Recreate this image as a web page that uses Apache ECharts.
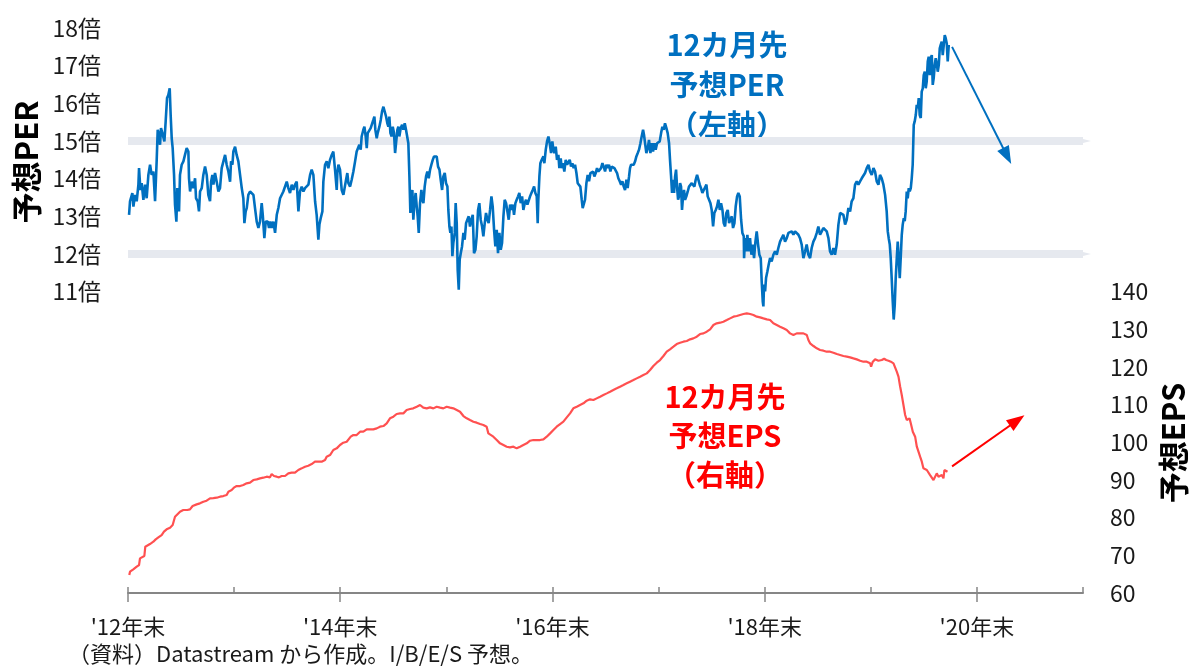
<!DOCTYPE html>
<html><head><meta charset="utf-8">
<script src="https://cdn.jsdelivr.net/npm/echarts@6/dist/echarts.min.js"></script>
<style>html,body{margin:0;padding:0;background:#fff}#chart{width:1189px;height:666px}</style>
</head><body><div id="chart"></div>
<script>
// x = decimal year (2013.0 = end of 2012)
const perData = [
[2013.010,13.04],[2013.019,13.40],[2013.041,13.62],[2013.051,13.26],[2013.066,13.57],[2013.082,13.40],[2013.098,13.84],[2013.104,14.28],[2013.117,13.70],[2013.129,13.88],[2013.145,13.44],[2013.161,13.84],[2013.176,13.48],[2013.192,14.10],[2013.208,14.37],[2013.223,14.10],[2013.239,14.19],[2013.255,13.40],[2013.270,14.46],[2013.280,15.30],[2013.292,15.16],[2013.302,14.90],[2013.311,15.34],[2013.324,15.21],[2013.343,14.99],[2013.355,15.52],[2013.368,16.14],[2013.380,16.22],[2013.393,16.40],[2013.402,15.69],[2013.412,15.07],[2013.421,14.81],[2013.434,14.10],[2013.443,13.31],[2013.456,12.86],[2013.465,13.75],[2013.475,13.57],[2013.481,13.13],[2013.490,14.10],[2013.506,14.37],[2013.522,14.46],[2013.537,14.63],[2013.553,14.81],[2013.569,14.72],[2013.575,14.01],[2013.585,13.66],[2013.600,13.92],[2013.616,13.75],[2013.632,14.01],[2013.641,13.48],[2013.657,13.40],[2013.669,13.13],[2013.679,13.66],[2013.695,13.75],[2013.710,14.10],[2013.726,14.32],[2013.742,14.10],[2013.757,13.57],[2013.773,13.40],[2013.783,13.92],[2013.795,14.10],[2013.805,13.84],[2013.820,14.15],[2013.836,13.92],[2013.852,13.66],[2013.867,13.75],[2013.883,14.28],[2013.899,14.46],[2013.915,14.63],[2013.930,14.37],[2013.946,14.19],[2013.962,13.92],[2013.971,14.46],[2013.984,14.37],[2013.993,14.72],[2014.009,14.85],[2014.024,14.63],[2014.040,14.46],[2014.056,14.50],[2014.072,13.75],[2014.087,13.48],[2014.097,12.82],[2014.109,13.13],[2014.119,13.22],[2014.134,13.57],[2014.150,13.66],[2014.166,13.70],[2014.182,13.57],[2014.197,13.22],[2014.213,12.86],[2014.229,12.69],[2014.244,12.86],[2014.260,13.35],[2014.270,13.04],[2014.285,12.42],[2014.298,12.86],[2014.317,12.86],[2014.329,12.69],[2014.342,12.86],[2014.354,12.69],[2014.370,12.86],[2014.386,12.56],[2014.402,13.04],[2014.417,13.22],[2014.433,13.48],[2014.449,13.53],[2014.464,13.66],[2014.480,13.70],[2014.496,13.92],[2014.511,13.75],[2014.527,13.62],[2014.543,13.84],[2014.559,13.70],[2014.574,13.84],[2014.590,13.92],[2014.606,13.13],[2014.621,13.66],[2014.637,13.79],[2014.653,13.66],[2014.668,13.75],[2014.684,13.79],[2014.700,13.84],[2014.716,14.10],[2014.731,14.24],[2014.747,14.10],[2014.763,13.40],[2014.778,13.04],[2014.794,12.38],[2014.804,12.78],[2014.816,12.95],[2014.832,13.13],[2014.841,13.92],[2014.857,14.37],[2014.873,14.46],[2014.888,14.28],[2014.904,14.50],[2014.920,14.63],[2014.935,14.72],
[2014.951,14.24],[2014.967,13.70],[2014.973,14.15],[2014.983,14.37],[2014.998,14.24],[2015.014,13.70],[2015.030,13.57],[2015.045,13.62],[2015.055,13.97],[2015.067,14.15],[2015.077,13.88],[2015.093,13.79],[2015.108,13.97],[2015.124,14.19],[2015.140,14.46],[2015.155,14.72],[2015.171,14.72],[2015.180,14.90],[2015.193,14.77],[2015.202,15.12],[2015.218,15.30],[2015.228,15.38],[2015.240,15.12],[2015.250,14.81],[2015.259,15.21],[2015.275,15.25],[2015.287,15.34],[2015.303,15.38],[2015.312,15.56],[2015.322,15.65],[2015.331,15.30],[2015.344,15.07],[2015.353,15.21],[2015.369,15.38],[2015.382,15.56],[2015.394,15.78],[2015.407,15.91],[2015.422,15.96],[2015.432,15.65],[2015.444,15.47],[2015.454,15.38],[2015.463,15.65],[2015.473,15.21],[2015.485,15.12],[2015.495,15.38],[2015.507,15.21],[2015.517,14.68],[2015.526,14.94],[2015.539,15.30],[2015.548,15.38],[2015.557,15.12],[2015.570,15.34],[2015.583,15.43],[2015.595,15.30],[2015.608,15.47],[2015.620,15.30],[2015.633,15.25],[2015.642,14.94],[2015.652,14.06],[2015.661,13.09],[2015.671,13.44],[2015.680,13.70],[2015.689,12.91],[2015.699,13.35],[2015.711,13.62],[2015.721,13.26],[2015.730,13.00],[2015.740,12.56],[2015.752,13.35],[2015.765,13.70],[2015.774,13.44],[2015.784,13.35],[2015.796,13.79],[2015.809,14.06],[2015.821,14.19],[2015.834,14.01],[2015.847,14.24],[2015.859,14.37],[2015.872,14.50],[2015.884,14.59],[2015.897,14.63],[2015.909,14.59],[2015.922,14.32],[2015.935,14.24],[2015.947,13.97],[2015.960,13.70],[2015.972,14.06],[2015.985,14.15],[2015.997,13.88],[2016.010,13.79],[2016.019,13.17],[2016.029,12.73],[2016.038,12.56],[2016.048,12.73],[2016.057,11.94],[2016.066,12.29],[2016.079,12.56],[2016.088,13.35],[2016.098,12.82],[2016.107,11.58],[2016.117,11.05],[2016.126,11.85],[2016.136,12.02],[2016.148,12.20],[2016.161,12.56],[2016.173,12.38],[2016.186,12.82],[2016.198,12.91],[2016.211,13.00],[2016.223,12.73],[2016.236,12.91],[2016.249,13.04],[2016.261,12.02],[2016.274,12.11],[2016.286,12.47],[2016.299,13.17],[2016.311,13.35],[2016.324,12.91],[2016.337,12.73],[2016.349,12.47],[2016.362,12.82],[2016.374,13.09],[2016.387,12.91],[2016.399,12.82],[2016.412,13.17],[2016.425,13.53],[2016.437,13.26],[2016.450,12.64],[2016.462,12.20],[2016.475,12.64],[2016.487,12.02],[2016.500,12.56],[2016.513,12.11],[2016.525,12.29],[2016.538,13.00],[2016.550,13.44],[2016.563,13.35],[2016.575,13.35],[2016.588,12.91],[2016.601,13.31],[2016.613,13.17],[2016.626,13.31],[2016.638,13.04],[2016.651,13.35],[2016.663,13.44],[2016.676,13.53],[2016.688,13.62],[2016.701,13.35],[2016.714,13.53],[2016.726,13.17],[2016.739,13.35],[2016.751,13.44],[2016.764,13.31],[2016.776,13.35],[2016.789,13.53],[2016.802,13.62],[2016.814,13.70],[2016.827,13.79],[2016.839,13.62],[2016.852,13.53],
[2016.861,12.82],[2016.867,13.44],[2016.877,14.06],[2016.886,14.41],[2016.899,14.50],[2016.915,14.59],[2016.924,14.41],[2016.937,14.77],[2016.949,14.99],[2016.962,15.12],[2016.974,14.94],[2016.987,14.68],[2016.999,14.99],[2017.009,14.77],[2017.018,14.68],[2017.031,14.85],[2017.043,14.50],[2017.056,14.63],[2017.065,14.28],[2017.078,14.54],[2017.087,14.28],[2017.100,14.41],[2017.112,14.19],[2017.125,14.50],[2017.138,14.37],[2017.150,14.41],[2017.163,14.50],[2017.175,14.32],[2017.188,14.41],[2017.200,14.28],[2017.213,14.37],[2017.226,14.15],[2017.238,13.88],[2017.251,13.93],[2017.263,13.79],[2017.276,13.44],[2017.285,13.22],[2017.295,13.17],[2017.307,13.44],[2017.320,13.88],[2017.332,14.10],[2017.345,13.93],[2017.358,14.15],[2017.370,14.10],[2017.383,14.19],[2017.395,14.06],[2017.408,14.15],[2017.420,14.28],[2017.433,14.19],[2017.445,14.24],[2017.458,14.28],[2017.471,14.41],[2017.483,14.32],[2017.496,14.19],[2017.508,14.37],[2017.521,14.28],[2017.533,14.37],[2017.546,14.19],[2017.559,14.32],[2017.571,14.37],[2017.584,14.28],[2017.596,14.24],[2017.609,14.15],[2017.621,14.01],[2017.634,13.93],[2017.647,13.84],[2017.659,13.93],[2017.672,13.79],[2017.684,13.70],[2017.697,13.97],[2017.709,13.75],[2017.722,14.06],[2017.731,14.28],[2017.741,14.37],[2017.753,14.32],[2017.766,14.37],[2017.779,14.46],[2017.791,14.59],[2017.804,14.68],[2017.816,14.77],[2017.829,14.94],[2017.841,15.12],[2017.854,15.30],[2017.863,15.16],[2017.873,14.94],[2017.885,14.68],[2017.898,14.81],[2017.910,15.03],[2017.923,14.68],[2017.936,14.94],[2017.948,14.72],[2017.961,14.94],[2017.973,14.77],[2017.986,14.94],[2017.998,14.90],[2018.011,14.99],[2018.024,15.21],[2018.036,15.38],[2018.049,15.30],[2018.061,15.47],[2018.074,15.34],[2018.086,15.21],[2018.099,14.94],[2018.108,14.50],[2018.118,14.06],[2018.127,13.62],[2018.137,13.97],[2018.146,13.62],[2018.156,14.06],[2018.165,14.24],[2018.174,13.79],[2018.184,13.44],[2018.193,13.53],[2018.203,13.88],[2018.212,13.79],[2018.221,13.17],[2018.231,13.53],[2018.240,13.70],[2018.250,13.44],[2018.262,13.53],[2018.275,13.66],[2018.287,13.79],[2018.300,13.75],[2018.313,13.88],[2018.325,13.93],[2018.338,13.79],[2018.350,13.97],[2018.363,14.10],[2018.375,14.06],[2018.388,13.84],[2018.400,13.75],[2018.413,13.62],[2018.426,13.70],[2018.438,13.75],[2018.451,13.84],[2018.463,13.53],[2018.476,13.44],[2018.489,13.35],[2018.501,13.17],[2018.514,12.73],[2018.526,13.09],[2018.539,13.17],[2018.551,13.26],[2018.564,13.44],[2018.577,13.17],[2018.589,13.35],[2018.602,13.17],[2018.614,12.82],[2018.627,12.73],[2018.639,13.09],[2018.652,13.17],[2018.665,12.82],[2018.677,12.91],[2018.690,13.00],[2018.702,12.69],[2018.715,12.82],[2018.727,13.26],[2018.740,13.53],[2018.752,13.62],[2018.765,13.53],[2018.778,12.91],[2018.790,12.56],[2018.803,12.47],
[2018.806,11.89],[2018.815,12.42],[2018.825,12.07],[2018.837,12.51],[2018.850,12.07],[2018.862,12.42],[2018.875,11.98],[2018.887,12.25],[2018.900,11.89],[2018.913,12.33],[2018.925,12.60],[2018.938,12.25],[2018.950,11.98],[2018.963,11.89],[2018.972,11.27],[2018.982,10.74],[2018.988,10.61],[2018.994,11.19],[2019.004,11.01],[2019.013,11.36],[2019.026,11.54],[2019.038,11.72],[2019.051,11.89],[2019.066,11.80],[2019.082,11.98],[2019.098,12.07],[2019.114,11.98],[2019.129,12.16],[2019.145,12.33],[2019.161,12.42],[2019.176,12.51],[2019.192,12.33],[2019.208,12.42],[2019.224,12.56],[2019.239,12.51],[2019.255,12.60],[2019.271,12.51],[2019.286,12.60],[2019.302,12.56],[2019.318,12.51],[2019.333,12.42],[2019.349,12.25],[2019.365,11.89],[2019.381,12.07],[2019.396,12.25],[2019.412,11.98],[2019.428,11.89],[2019.443,12.16],[2019.459,12.33],[2019.475,12.42],[2019.491,12.56],[2019.506,12.73],[2019.522,12.51],[2019.538,12.60],[2019.553,12.69],[2019.569,12.64],[2019.585,12.60],[2019.601,12.42],[2019.616,12.07],[2019.632,11.98],[2019.648,12.16],[2019.663,11.98],[2019.679,12.25],[2019.695,12.78],[2019.711,13.09],[2019.726,13.13],[2019.742,13.04],[2019.758,12.78],[2019.773,12.91],[2019.789,13.22],[2019.805,13.13],[2019.820,13.40],[2019.836,13.48],[2019.852,13.84],[2019.868,13.93],[2019.883,13.84],[2019.899,13.93],[2019.915,14.01],[2019.930,14.06],[2019.946,14.15],[2019.962,14.28],[2019.978,14.37],[2019.993,14.19],[2020.009,14.10],[2020.025,14.28],[2020.040,14.19],[2020.056,13.93],[2020.072,13.84],[2020.087,14.10],[2020.103,14.01],[2020.119,13.84],[2020.135,13.57],[2020.150,13.13],[2020.160,12.60],[2020.169,12.42],[2020.179,12.25],[2020.188,11.89],[2020.197,11.36],[2020.207,10.74],[2020.216,10.26],[2020.226,10.65],[2020.235,11.36],[2020.245,11.89],[2020.254,12.33],[2020.263,11.89],[2020.273,11.36],[2020.282,11.89],[2020.292,12.51],[2020.301,12.78],[2020.311,12.95],[2020.320,12.87],[2020.329,13.13],[2020.339,13.66],[2020.348,13.48],[2020.358,13.75],[2020.367,13.66],[2020.377,13.75],[2020.386,14.01],[2020.395,14.37],[2020.405,15.43],[2020.414,15.52],[2020.424,15.69],[2020.433,15.96],[2020.443,15.87],[2020.452,16.14],[2020.461,15.69],[2020.471,15.61],[2020.480,16.31],[2020.490,16.40],[2020.499,16.75],[2020.509,16.84],[2020.518,16.40],[2020.527,16.58],[2020.537,17.11],[2020.546,17.24],[2020.556,16.75],[2020.565,17.20],[2020.575,17.28],[2020.584,16.49],[2020.593,16.67],[2020.603,17.02],[2020.612,17.20],[2020.622,17.06],[2020.631,16.84],[2020.641,17.02],[2020.650,17.46],[2020.659,17.55],[2020.669,17.64],[2020.678,17.28],[2020.688,17.55],[2020.697,17.81],[2020.706,17.73],[2020.716,17.59],[2020.725,17.11],[2020.735,17.55]
];
const epsData = [
[2013.012,64.77],[2013.019,65.66],[2013.050,66.28],[2013.082,66.98],[2013.104,67.42],[2013.113,69.20],[2013.129,69.64],[2013.154,69.82],[2013.163,72.29],[2013.176,72.73],[2013.207,73.00],[2013.239,73.62],[2013.261,74.24],[2013.286,74.77],[2013.317,75.39],[2013.339,76.28],[2013.364,76.90],[2013.396,77.34],[2013.421,78.05],[2013.443,80.26],[2013.459,80.70],[2013.490,81.59],[2013.521,82.03],[2013.559,82.03],[2013.584,82.21],[2013.609,83.09],[2013.647,83.53],[2013.678,83.80],[2013.710,84.24],[2013.741,84.51],[2013.773,85.13],[2013.804,85.21],[2013.836,85.30],[2013.867,85.57],[2013.898,85.74],[2013.930,86.01],[2013.946,86.90],[2013.977,87.34],[2014.002,88.05],[2014.024,88.40],[2014.056,88.40],[2014.087,88.67],[2014.118,89.11],[2014.150,89.29],[2014.181,89.99],[2014.213,90.17],[2014.244,90.44],[2014.275,90.61],[2014.307,90.88],[2014.338,90.70],[2014.354,91.59],[2014.376,91.06],[2014.401,90.88],[2014.423,90.70],[2014.448,91.06],[2014.480,91.06],[2014.511,91.76],[2014.542,91.94],[2014.574,91.94],[2014.605,92.65],[2014.637,93.09],[2014.668,93.53],[2014.699,93.80],[2014.731,94.24],[2014.762,94.86],[2014.794,94.86],[2014.825,94.86],[2014.857,95.30],[2014.872,96.19],[2014.904,96.63],[2014.935,97.96],[2014.967,98.40],[2014.998,99.29],[2015.029,99.90],[2015.061,100.17],[2015.099,101.50],[2015.124,101.94],[2015.155,101.94],[2015.187,102.83],[2015.218,102.83],[2015.250,103.45],[2015.281,103.45],[2015.312,103.45],[2015.344,103.71],[2015.375,104.15],[2015.407,104.33],[2015.438,105.04],[2015.469,106.37],[2015.501,106.81],[2015.532,107.52],[2015.564,107.69],[2015.595,107.69],[2015.626,108.58],[2015.658,108.84],[2015.689,109.02],[2015.721,109.46],[2015.752,109.91],[2015.783,109.20],[2015.815,109.02],[2015.846,109.28],[2015.878,109.02],[2015.909,109.46],[2015.941,109.20],[2015.972,109.02],[2016.003,109.46],[2016.035,109.20],[2016.066,109.02],[2016.098,108.58],[2016.129,108.13],[2016.161,106.98],[2016.192,106.37],[2016.223,105.92],[2016.255,105.48],[2016.286,105.22],[2016.318,104.86],[2016.349,104.59],[2016.380,104.15],[2016.396,102.38],[2016.412,101.94],[2016.443,101.50],[2016.475,100.61],[2016.506,99.73],
[2016.538,99.28],[2016.569,98.84],[2016.600,98.66],[2016.632,98.84],[2016.663,98.40],[2016.695,98.84],[2016.726,99.28],[2016.758,99.73],[2016.789,100.43],[2016.820,100.61],[2016.852,100.61],[2016.883,100.61],[2016.915,100.79],[2016.946,101.50],[2016.978,102.38],[2017.009,103.27],[2017.040,104.15],[2017.072,104.86],[2017.103,105.48],[2017.135,106.63],[2017.166,107.69],[2017.197,109.02],[2017.229,109.46],[2017.260,109.91],[2017.292,110.35],[2017.323,111.05],[2017.354,111.41],[2017.386,111.23],[2017.417,111.67],[2017.449,112.12],[2017.480,112.56],[2017.512,113.00],[2017.543,113.44],[2017.574,113.89],[2017.606,114.33],[2017.637,114.77],[2017.669,115.22],[2017.700,115.66],[2017.731,116.10],[2017.763,116.54],[2017.794,116.98],[2017.826,117.43],[2017.857,117.87],[2017.889,118.31],[2017.920,119.20],[2017.951,120.26],[2017.983,121.14],[2018.014,121.85],[2018.046,122.91],[2018.077,124.06],[2018.108,124.68],[2018.140,125.39],[2018.171,126.10],[2018.203,126.45],[2018.234,126.72],[2018.266,126.90],[2018.297,127.34],[2018.328,127.60],[2018.360,128.05],[2018.391,128.75],[2018.423,128.93],[2018.454,129.37],[2018.486,130.00],[2018.517,131.14],[2018.548,131.59],[2018.580,131.76],[2018.611,132.03],[2018.643,132.47],[2018.674,132.91],[2018.706,133.36],[2018.737,133.53],[2018.768,133.80],[2018.800,134.06],[2018.831,134.24],[2018.847,134.42],[2018.863,134.06],[2018.894,133.80],[2018.926,133.36],[2018.957,133.18],[2018.988,132.91],[2019.020,132.65],[2019.051,132.47],[2019.082,131.59],[2019.114,131.14],[2019.145,130.70],[2019.177,130.26],[2019.208,129.82],[2019.239,128.93],[2019.271,128.49],[2019.302,128.93],[2019.334,128.93],[2019.365,128.93],[2019.397,128.49],[2019.412,127.16],[2019.428,126.28],[2019.460,125.57],[2019.491,124.95],[2019.522,124.51],[2019.554,124.33],[2019.585,124.06],[2019.617,124.06],[2019.648,123.80],[2019.680,123.44],[2019.711,123.18],[2019.742,122.91],[2019.774,122.74],[2019.805,122.56],
[2019.837,122.29],[2019.868,122.03],[2019.900,121.67],[2019.931,121.41],[2019.962,121.41],[2019.994,120.97],[2020.003,120.08],[2020.019,121.41],[2020.041,122.03],[2020.072,121.67],[2020.104,121.85],[2020.126,122.20],[2020.145,121.85],[2020.167,121.67],[2020.189,121.41],[2020.214,120.97],[2020.229,119.91],[2020.245,118.75],[2020.261,117.43],[2020.277,114.77],[2020.292,112.56],[2020.308,109.91],[2020.324,107.25],[2020.339,105.92],[2020.365,106.37],[2020.377,105.04],[2020.396,102.83],[2020.418,101.50],[2020.434,98.84],[2020.449,98.40],[2020.465,96.19],[2020.481,94.86],[2020.496,93.09],[2020.512,93.53],[2020.528,92.65],[2020.544,92.20],[2020.559,91.32],[2020.575,90.88],[2020.591,89.99],[2020.606,90.44],[2020.622,91.76],[2020.638,90.88],[2020.653,90.44],[2020.669,91.32],[2020.685,90.44],[2020.694,92.65],[2020.710,93.09],[2020.723,92.20]
];
const perBands = [12, 15];
const majorYears = [2013, 2015, 2017, 2019, 2021];
const perArrow = [[2020.766, 17.50], [2021.285, 14.60]];
const epsArrow = [[2020.766, 93.6], [2021.379, 105.8]];
const perLabelMin = 11;
const epsLabelMax = 140;

const FONT = "'Noto Sans CJK JP', 'Noto Sans', sans-serif";
const BLUE = '#0070c0';
const RED = '#ff0000';
const AXIS = '#868686';

const chart = echarts.init(document.getElementById('chart'));
const bandItems = perBands.map(v => ({ yAxis: v, symbol: 'none', lineStyle: { color: '#e6e9ef', width: 8, type: 'solid' } }));
chart.setOption({
  animation: false,
  backgroundColor: '#ffffff',
  textStyle: { fontFamily: FONT },
  grid: { left: 128, right: 106, top: 28, bottom: 73 },
  xAxis: [
    {
      type: 'value', min: 2013, max: 2022, interval: 1, position: 'bottom',
      axisLine: { lineStyle: { color: AXIS, width: 2 } },
      axisTick: { inside: true, length: 6, lineStyle: { color: AXIS, width: 1.5 } },
      axisLabel: { show: false }, splitLine: { show: false }
    },
    {
      type: 'value', min: 2013, max: 2022, interval: 1, position: 'bottom',
      axisLine: { show: false },
      axisTick: { show: true, customValues: majorYears, length: 9, lineStyle: { color: AXIS, width: 1.5 } },
      axisLabel: {
        customValues: majorYears, margin: 23, fontSize: 22, color: '#1a1a1a', fontFamily: FONT,
        formatter: v => "'" + String(Math.round(v) - 1).slice(2) + '年末'
      },
      splitLine: { show: false }
    }
  ],
  yAxis: [
    {
      type: 'value', min: 3, max: 18, interval: 1, position: 'left',
      axisLine: { show: false }, axisTick: { show: false }, splitLine: { show: false },
      axisLabel: { margin: 27, fontSize: 23, color: '#1a1a1a', fontFamily: FONT,
        formatter: v => v >= perLabelMin ? v + '倍' : '' }
    },
    {
      type: 'value', min: 60, max: 210, interval: 10, position: 'right',
      axisLine: { show: false }, axisTick: { show: false }, splitLine: { show: false },
      axisLabel: { margin: 27, fontSize: 23, color: '#1a1a1a', fontFamily: FONT,
        formatter: v => v <= epsLabelMax ? String(v) : '' }
    }
  ],
  series: [
    {
      name: '予想PER', type: 'line', xAxisIndex: 0, yAxisIndex: 0, data: perData,
      showSymbol: false, symbol: 'none', z: 3,
      lineStyle: { color: BLUE, width: 2.6 },
      markLine: {
        silent: true, z: 1, label: { show: false }, animation: false,
        symbol: ['none', 'triangle'],
        data: bandItems.concat([[
          { coord: perArrow[0], symbol: 'none' },
          { coord: perArrow[1], symbol: 'triangle', symbolSize: [13, 18], lineStyle: { color: BLUE, width: 2, type: 'solid' } }
        ]])
      }
    },
    {
      name: '予想EPS', type: 'line', xAxisIndex: 0, yAxisIndex: 1, data: epsData,
      showSymbol: false, symbol: 'none', z: 4,
      lineStyle: { color: '#ff5050', width: 2.2 },
      markLine: {
        silent: true, label: { show: false }, animation: false,
        symbol: ['none', 'triangle'],
        data: [[
          { coord: epsArrow[0], symbol: 'none' },
          { coord: epsArrow[1], symbol: 'triangle', symbolSize: [13, 18], lineStyle: { color: RED, width: 2, type: 'solid' } }
        ]],
        lineStyle: { color: RED, width: 2, type: 'solid' }, itemStyle: { color: RED }
      }
    }
  ],
  graphic: [
    { type: 'text', x: 727, y: 85, style: { text: '12カ月先\n予想PER\n（左軸）', align: 'center', verticalAlign: 'middle', textAlign: 'center', textVerticalAlign: 'middle', fontSize: 29, fontWeight: 'bold', lineHeight: 40, fill: BLUE, fontFamily: FONT } },
    { type: 'text', x: 725, y: 436, style: { text: '12カ月先\n予想EPS\n（右軸）', align: 'center', verticalAlign: 'middle', textAlign: 'center', textVerticalAlign: 'middle', fontSize: 29, fontWeight: 'bold', lineHeight: 39, fill: RED, fontFamily: FONT } },
    { type: 'text', x: 26, y: 162, rotation: Math.PI / 2, style: { text: '予想PER', textAlign: 'center', textVerticalAlign: 'middle', align: 'center', verticalAlign: 'middle', fontSize: 31, fontWeight: 'bold', fill: '#000', fontFamily: FONT } },
    { type: 'text', x: 1173, y: 443, rotation: Math.PI / 2, style: { text: '予想EPS', textAlign: 'center', textVerticalAlign: 'middle', align: 'center', verticalAlign: 'middle', fontSize: 31, fontWeight: 'bold', fill: '#000', fontFamily: FONT } },
    { type: 'text', x: 68, y: 654, style: { text: '（資料）Datastream から作成。I/B/E/S 予想。', textVerticalAlign: 'middle', verticalAlign: 'middle', fontSize: 22, fill: '#1a1a1a', fontFamily: FONT } }
  ]
});
</script>
</body></html>
